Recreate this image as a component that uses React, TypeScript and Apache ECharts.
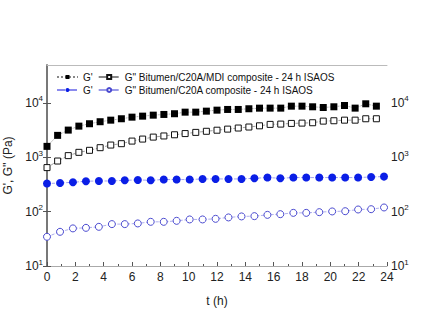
import React, { useEffect, useRef } from "react";
import * as echarts from "echarts";

// time (h) of square-marker series
const tSquares = [0, 0.75, 1.5, 2.25, 3, 3.75, 4.5, 5.25, 6, 6.75, 7.5, 8.25, 9, 9.75, 10.5, 11.25, 12, 12.75, 13.5, 14.25, 15, 15.75, 16.5, 17.25, 18, 18.75, 19.5, 20.25, 21, 21.75, 22.5, 23.25];
// G' Bitumen/C20A/MDI (filled black squares)
const gPrimeMDI = [1590, 2535, 3170, 3750, 4150, 4520, 4830, 5125, 5485, 5725, 5970, 6150, 6340, 6780, 6780, 7075, 7380, 7600, 7600, 7830, 8030, 8040, 8040, 8740, 8740, 8510, 8260, 8510, 8990, 8040, 9660, 8740];
// G'' Bitumen/C20A/MDI (hollow squares)
const gDoubleMDI = [647, 855, 1074, 1235, 1345, 1505, 1682, 1783, 1990, 2167, 2355, 2472, 2600, 2735, 2877, 3013, 3155, 3304, 3460, 3610, 3800, 4035, 4085, 4207, 4260, 4330, 4636, 4713, 4830, 4830, 5125, 5125];

// time (h) of circle-marker series
const tCircles = [0, 0.92, 1.83, 2.75, 3.66, 4.58, 5.49, 6.41, 7.32, 8.24, 9.15, 10.07, 10.98, 11.9, 12.81, 13.73, 14.64, 15.56, 16.47, 17.39, 18.3, 19.22, 20.13, 21.05, 21.96, 22.88, 23.79];
// G' Bitumen/C20A (filled blue circles)
const gPrimeC20A = [329, 337, 347, 363, 367, 367, 378, 383, 378, 390, 390, 390, 400, 400, 400, 400, 412, 424, 412, 424, 424, 424, 424, 424, 424, 435, 442];
// G'' Bitumen/C20A (hollow blue circles)
const gDoubleC20A = [34.5, 42.6, 49.2, 50.4, 52.6, 59.0, 59.0, 60.7, 65.0, 65.0, 67.8, 71.9, 71.9, 73.8, 78.3, 81.7, 82.7, 87.3, 89.9, 95.0, 95.0, 97.9, 100.9, 102, 109.6, 111, 119.4];

const legendRow1 = ["G' MDI", "G'' MDI"];
const legendRow2 = ["G' C20A", "G'' C20A"];
const legendText: Record<string, string> = {
  "G' MDI": "G'",
  "G'' MDI": 'G" Bitumen/C20A/MDI composite - 24 h ISAOS',
  "G' C20A": "G'",
  "G'' C20A": 'G" Bitumen/C20A composite - 24 h ISAOS',
};

const FONT = "'Liberation Sans', Arial, sans-serif";

function pairs(t: number[], v: number[]) {
  return t.map((x, i) => [x, v[i]]);
}

const yLabel = (v: number) => {
  const e = Math.round(Math.log10(v));
  if (Math.abs(Math.log10(v) - e) > 1e-6) return "";
  return "{b|10}{s|" + e + "}";
};
const yRich = {
  b: { fontSize: 12, fontFamily: FONT, color: "#222" },
  s: { fontSize: 8, fontFamily: FONT, color: "#222", padding: [0, 0, 8, 0] },
};

export default function App() {
  const ref = useRef<HTMLDivElement>(null);
  useEffect(() => {
    if (!ref.current) return;
    const chart = echarts.init(ref.current, undefined, { renderer: "svg" });
    const yAxisBase = {
      type: "log" as const,
      logBase: 10,
      min: 10,
      max: 50000,
      splitLine: { show: false },
      axisLine: { show: true, lineStyle: { color: "#6f6f6f", width: 1.5 } },
      axisTick: { show: true, inside: true, length: 4, lineStyle: { color: "#555" } },
    };
    const legendBase = {
      left: 56,
      itemWidth: 21,
      itemHeight: 5,
      itemGap: 5,
      padding: 0,
      formatter: (n: string) => legendText[n],
      textStyle: { fontFamily: FONT, fontSize: 10, color: "#111" },
      selectedMode: false,
    };
    chart.setOption({
      animation: false,
      backgroundColor: "#fff",
      grid: { left: 47, right: 34, top: 65, bottom: 58, containLabel: false, outerBoundsMode: "none" },
      legend: [
        { ...legendBase, data: legendRow1, top: 72 },
        { ...legendBase, data: legendRow2, top: 85 },
      ],
      xAxis: [
        {
          type: "value",
          min: 0,
          max: 24,
          interval: 2,
          name: "t (h)",
          nameLocation: "middle",
          nameGap: 29,
          nameTextStyle: { fontFamily: FONT, fontSize: 12, color: "#222" },
          splitLine: { show: false },
          axisLine: { show: true, onZero: false, lineStyle: { color: "#aaa", width: 1 } },
          axisTick: { show: true, inside: true, length: 4, lineStyle: { color: "#555" } },
          minorTick: { show: true, splitNumber: 2, length: 2, lineStyle: { color: "#555" } },
          axisLabel: { fontFamily: FONT, fontSize: 12, color: "#222", margin: 5 },
        },
        {
          type: "value",
          position: "top",
          min: 0,
          max: 24,
          interval: 2,
          splitLine: { show: false },
          axisLine: { show: true, onZero: false, lineStyle: { color: "#bbb", width: 1 } },
          axisTick: { show: false },
          axisLabel: { show: false },
        },
      ],
      yAxis: [
        {
          ...yAxisBase,
          position: "left",
          name: "G', G'' (Pa)",
          nameLocation: "middle",
          nameGap: 25,
          nameRotate: 90,
          nameTextStyle: { fontFamily: FONT, fontSize: 12, color: "#222" },
          axisLabel: { formatter: yLabel, rich: yRich, showMaxLabel: false, margin: 4 },
        },
        {
          ...yAxisBase,
          position: "right",
          axisLabel: { formatter: yLabel, rich: yRich, showMaxLabel: false, margin: 4 },
        },
      ],
      series: [
        {
          name: "G' MDI",
          type: "line",
          data: pairs(tSquares, gPrimeMDI),
          symbol: "rect",
          symbolSize: 7,
          itemStyle: { color: "#000" },
          lineStyle: { color: "#888", width: 0.8, type: "dotted" },
        },
        {
          name: "G'' MDI",
          type: "line",
          data: pairs(tSquares, gDoubleMDI),
          symbol: "rect",
          symbolSize: 6,
          itemStyle: { color: "#fff", borderColor: "#111", borderWidth: 1 },
          lineStyle: { color: "#888", width: 0.8, type: "dashed" },
        },
        {
          name: "G' C20A",
          type: "line",
          data: pairs(tCircles, gPrimeC20A),
          symbol: "circle",
          symbolSize: 8,
          itemStyle: { color: "#0a1ee6" },
          lineStyle: { color: "#8a8aee", width: 0.8, type: "dashed" },
        },
        {
          name: "G'' C20A",
          type: "line",
          data: pairs(tCircles, gDoubleC20A),
          symbol: "circle",
          symbolSize: 7,
          itemStyle: { color: "#fff", borderColor: "#4a4ad0", borderWidth: 1 },
          lineStyle: { color: "#9a9ae8", width: 0.8, type: "dashed" },
        },
      ],
    });
    return () => chart.dispose();
  }, []);
  return <div ref={ref} style={{ width: 421, height: 324, position: "absolute", left: 0, top: 0 }} />;
}
